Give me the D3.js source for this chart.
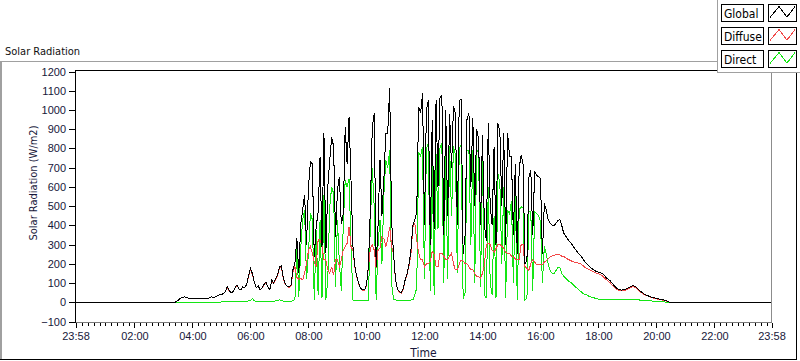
<!DOCTYPE html>
<html>
<head>
<meta charset="utf-8">
<script src="https://cdn.jsdelivr.net/npm/d3@7"></script>
<style>
  body { margin: 0; background: #fff; }
  svg { display: block; font-family: "DejaVu Sans Condensed", "Liberation Sans", sans-serif; }
</style>
</head>
<body>
<div id="chart"></div>
<script>
// Samples every 4 minutes from 03:00 to 20:56, one row per hour
const startTime = "03:00";
const stepMinutes = 4;
const nightValue = 0;

const globalValues = [
  0, 0, 0, 0, 0, 0, 0, 5, 15, 22, 25, 28, 25, 20, 22,                         // 03
  22, 20, 18, 20, 22, 20, 18, 22, 20, 25, 28, 25, 30, 35, 38,                 // 04
  40, 45, 55, 80, 60, 50, 55, 75, 90, 70, 65, 80, 78, 90, 140,                // 05
  175, 150, 105, 75, 85, 65, 75, 92, 105, 80, 65, 115, 100, 120, 140,         // 06
  185, 190, 125, 95, 85, 80, 90, 170, 205, 333, 150, 410, 479, 560, 300,      // 07
  600, 730, 720, 237, 393, 470, 756, 290, 878, 255, 600, 739, 860, 810, 341,  // 08
  583, 652, 405, 460, 912, 720, 964, 635, 290, 185, 133, 98, 73, 64, 64,      // 09
  90, 185, 480, 912, 982, 185, 405, 740, 450, 640, 878, 880, 1112, 420, 255,  // 10
  120, 70, 55, 50, 70, 116, 150, 200, 270, 400, 430, 470, 1016, 983, 1086,    // 11
  400, 1000, 1050, 300, 950, 380, 1050, 600, 1060, 1077, 350, 1000, 450, 980, 700, // 12
  1020, 980, 400, 1050, 1055, 250, 350, 950, 985, 600, 960, 500, 900, 850, 400,    // 13
  870, 400, 320, 930, 500, 400, 808, 300, 930, 890, 500, 880, 300, 880, 756,  // 14
  756, 350, 720, 250, 700, 764, 720, 200, 220, 650, 687, 350, 680, 660, 652,  // 15
  645, 250, 514, 480, 430, 410, 400, 400, 410, 425, 430, 400, 360, 345, 330,  // 16
  315, 305, 290, 275, 263, 250, 240, 225, 210, 200, 190, 180, 172, 165, 159,  // 17
  157, 154, 150, 140, 128, 120, 113, 100, 88, 76, 70, 66, 63, 65, 68,         // 18
  72, 78, 84, 86, 82, 72, 63, 55, 48, 40, 37, 32, 28, 25, 23,                 // 19
  21, 18, 16, 14, 11, 8, 4, 0, 0, 0, 0, 0, 0, 0, 0                            // 20
];

const diffuseValues = [
  0, 0, 0, 0, 0, 0, 0, 5, 15, 22, 25, 28, 25, 20, 22,
  22, 20, 18, 20, 22, 20, 18, 22, 20, 25, 28, 25, 30, 35, 38,
  40, 45, 55, 78, 60, 50, 55, 73, 88, 70, 65, 78, 76, 88, 135,
  170, 145, 103, 75, 85, 65, 75, 90, 103, 80, 65, 112, 98, 117, 136,
  180, 182, 120, 92, 83, 78, 87, 160, 185, 130, 120, 125, 116, 150, 200,
  270, 290, 255, 210, 185, 324, 324, 290, 220, 220, 168, 150, 185, 140, 220,
  220, 185, 220, 272, 290, 307, 393, 290, 270, 182, 130, 96, 71, 62, 62,
  88, 180, 280, 300, 272, 180, 272, 280, 341, 330, 290, 330, 393, 290, 250,
  118, 68, 53, 48, 68, 112, 145, 190, 250, 393, 410, 324, 255, 220, 220,
  185, 200, 200, 210, 265, 250, 185, 185, 255, 255, 240, 220, 220, 240, 255,
  200, 168, 168, 200, 220, 215, 200, 200, 185, 168, 168, 150, 133, 133, 125,
  150, 194, 300, 307, 300, 270, 260, 280, 300, 300, 290, 280, 260, 255, 255,
  240, 235, 225, 220, 220, 300, 300, 185, 175, 165, 200, 220, 210, 195, 195,
  195, 195, 210, 215, 225, 235, 240, 245, 246, 246, 246, 240, 238, 232, 225,
  220, 215, 210, 208, 205, 203, 198, 190, 182, 176, 170, 165, 160, 155, 150,
  148, 144, 138, 128, 118, 110, 102, 90, 80, 70, 64, 62, 60, 60, 64,
  68, 73, 79, 81, 77, 67, 58, 50, 45, 38, 35, 30, 26, 23, 21,
  19, 15, 14, 12, 9, 6, 3, 0, 0, 0, 0, 0, 0, 0, 0
];

const directValues = [
  0, 0, 0, 0, 0, 0, 0, 0, 0, 0, 0, 0, 0, 0, 0,
  0, 0, 0, 0, 0, 0, 0, 0, 0, 0, 0, 0, 0, 0, 0,
  2, 2, 3, 3, 3, 3, 3, 3, 4, 4, 4, 4, 4, 5, 8,
  10, 20, 8, 5, 5, 4, 4, 5, 5, 5, 4, 6, 6, 7, 8,
  12, 10, 5, 4, 4, 4, 5, 8, 15, 300, 30, 280, 428, 480, 120,
  255, 462, 430, 12, 375, 40, 430, 20, 560, 12, 120, 497, 600, 565, 81,
  428, 200, 60, 400, 635, 600, 640, 300, 12, 10, 10, 10, 10, 10, 10,
  10, 10, 405, 696, 500, 12, 300, 430, 200, 560, 740, 700, 790, 100, 12,
  12, 10, 10, 10, 10, 10, 10, 10, 12, 12, 40, 74, 780, 760, 808,
  120, 800, 827, 60, 760, 40, 770, 380, 800, 827, 100, 780, 120, 810, 450,
  810, 770, 150, 800, 820, 20, 50, 790, 790, 300, 790, 100, 790, 780, 80,
  756, 40, 20, 600, 100, 40, 450, 20, 670, 620, 200, 600, 20, 480, 460,
  524, 100, 560, 12, 480, 497, 490, 12, 20, 470, 470, 60, 470, 460, 450,
  420, 100, 290, 250, 200, 165, 150, 150, 165, 180, 183, 150, 135, 125, 115,
  107, 100, 90, 81, 72, 64, 55, 45, 40, 38, 32, 28, 26, 22, 18,
  16, 15, 14, 13, 13, 12, 12, 12, 12, 12, 12, 12, 12, 12, 13,
  14, 15, 17, 17, 15, 13, 12, 11, 10, 9, 8, 7, 7, 6, 6,
  5, 4, 3, 3, 2, 1, 0, 0, 0, 0, 0, 0, 0, 0, 0
];

const seriesNames = ["Global", "Diffuse", "Direct"];
const seriesColors = ["#000000", "#f24848", "#14e614"];
const xTickLabels = ["23:58", "02:00", "04:00", "06:00", "08:00", "10:00", "12:00",
                     "14:00", "16:00", "18:00", "20:00", "22:00", "23:58"];
const yTicks = [-100, 0, 100, 200, 300, 400, 500, 600, 700, 800, 900, 1000, 1100, 1200];
const minorTickMinutes = 12;

// time helpers
const toDate = (hhmm, dayOffset = 0) => {
  const [h, m] = hhmm.split(":").map(Number);
  return new Date(2020, 0, 2 + dayOffset, h, m);
};
const xStart = toDate(xTickLabels[0], -1);
const xEnd = toDate(xTickLabels[xTickLabels.length - 1]);
const t0 = toDate(startTime);
const sampleTimes = globalValues.map((_, i) => d3.timeMinute.offset(t0, i * stepMinutes));

const toSeries = values => [{ t: xStart, v: nightValue }]
  .concat(values.map((v, i) => ({ t: sampleTimes[i], v })))
  .concat([{ t: xEnd, v: nightValue }]);

const series = [globalValues, diffuseValues, directValues].map(toSeries);

// layout
const W = 800, H = 361;
const plot = { left: 75.5, right: 771.5, top: 70.5, bottom: 322.5 };
const textColor = "#17173a";

const svg = d3.select("#chart").append("svg")
  .attr("width", W)
  .attr("height", H);

// outer panel
const frame = svg.append("g").attr("shape-rendering", "crispEdges");
frame.append("line").attr("x1", 0).attr("x2", 717).attr("y1", 61.5).attr("y2", 61.5).attr("stroke", "#a0a0a0");
frame.append("line").attr("x1", 1).attr("x2", 1).attr("y1", 61).attr("y2", 360).attr("stroke", "#a0a0a0").attr("stroke-width", 2);
frame.append("line").attr("x1", 0).attr("x2", 797).attr("y1", 359.5).attr("y2", 359.5).attr("stroke", "#000");
frame.append("line").attr("x1", 796.5).attr("x2", 796.5).attr("y1", 72).attr("y2", 360).attr("stroke", "#000");

svg.append("text")
  .attr("x", 5).attr("y", 55)
  .attr("font-size", 11).attr("fill", "#111")
  .text("Solar Radiation");

// scales
const x = d3.scaleTime().domain([xStart, xEnd]).range([plot.left, plot.right]);
const y = d3.scaleLinear().domain([-100, 1200]).range([321.5, 71.5]);

// y axis
const yAxis = svg.append("g")
  .attr("transform", `translate(${plot.left - 0.5},0)`)
  .attr("shape-rendering", "crispEdges")
  .call(d3.axisLeft(y).tickValues(yTicks).tickSize(6).tickPadding(3).tickFormat(d3.format("d")));
yAxis.select(".domain").remove();
yAxis.selectAll(".tick line").attr("stroke", "#000");
yAxis.selectAll(".tick text")
  .attr("font-size", 11).attr("fill", textColor)
  .attr("font-family", null);

// x axis: minor then major ticks
const majorTicks = xTickLabels.map((lab, i) =>
  i === 0 ? xStart : i === xTickLabels.length - 1 ? xEnd : toDate(lab));
const minorTicks = d3.range(0, 24 * 60, minorTickMinutes)
  .map(m => d3.timeMinute.offset(toDate("00:00"), m));

const xMinor = svg.append("g")
  .attr("transform", `translate(0,${plot.bottom})`)
  .attr("shape-rendering", "crispEdges")
  .call(d3.axisBottom(x).tickValues(minorTicks).tickSize(3).tickFormat(""));
xMinor.select(".domain").remove();

const xAxis = svg.append("g")
  .attr("transform", `translate(0,${plot.bottom})`)
  .attr("shape-rendering", "crispEdges")
  .call(d3.axisBottom(x).tickValues(majorTicks).tickSize(5).tickPadding(5)
    .tickFormat((d, i) => xTickLabels[i]));
xAxis.select(".domain").remove();
xAxis.selectAll(".tick line").attr("stroke", "#000");
xAxis.selectAll(".tick text")
  .attr("font-size", 11).attr("fill", textColor)
  .attr("font-family", null);

// plot clip
svg.append("clipPath").attr("id", "clip")
  .append("rect")
  .attr("x", plot.left).attr("y", plot.top)
  .attr("width", plot.right - plot.left).attr("height", plot.bottom - plot.top);

const line = d3.line()
  .x(d => x(d.t))
  .y(d => y(d.v));

const lines = svg.append("g").attr("clip-path", "url(#clip)");
// draw Direct first, Global on top
[2, 1, 0].forEach(k => {
  lines.append("path")
    .datum(series[k])
    .attr("fill", "none")
    .attr("stroke", seriesColors[k])
    .attr("stroke-width", 1)
    .attr("shape-rendering", "crispEdges")
    .attr("d", line);
});

// plot frame
const pf = svg.append("g").attr("shape-rendering", "crispEdges");
pf.append("line").attr("x1", plot.left).attr("x2", plot.right).attr("y1", plot.top - 0.5).attr("y2", plot.top - 0.5).attr("stroke", "#000");
pf.append("line").attr("x1", plot.left).attr("x2", plot.left).attr("y1", plot.top - 1).attr("y2", plot.bottom).attr("stroke", "#000");
pf.append("line").attr("x1", plot.right).attr("x2", plot.right).attr("y1", plot.top).attr("y2", plot.bottom).attr("stroke", "#8c8c8c");
pf.append("line").attr("x1", plot.left).attr("x2", plot.right + 0.5).attr("y1", plot.bottom).attr("y2", plot.bottom).attr("stroke", "#7a7a7a");

// axis titles
svg.append("text")
  .attr("transform", "translate(36.5,183) rotate(-90)")
  .attr("text-anchor", "middle")
  .attr("font-size", 11).attr("fill", textColor)
  .text("Solar Radiation (W/m2)");

svg.append("text")
  .attr("x", 423.5).attr("y", 357)
  .attr("text-anchor", "middle")
  .attr("font-size", 12).attr("fill", textColor)
  .text("Time");

// legend
const legend = svg.append("g").attr("shape-rendering", "crispEdges");
legend.append("rect").attr("x", 717).attr("y", 0).attr("width", 83).attr("height", 72).attr("fill", "#fff");
legend.append("line").attr("x1", 717.5).attr("x2", 717.5).attr("y1", 0).attr("y2", 73).attr("stroke", "#a0a0a0");
legend.append("line").attr("x1", 717).attr("x2", 800).attr("y1", 72.5).attr("y2", 72.5).attr("stroke", "#a0a0a0");

seriesNames.forEach((name, i) => {
  const top = 4.5 + i * 23;
  const row = legend.append("g");
  row.append("rect")
    .attr("x", 721.5).attr("y", top).attr("width", 42).attr("height", 17)
    .attr("fill", "#fff").attr("stroke", "#000");
  row.append("text")
    .attr("x", 724).attr("y", top + 13)
    .attr("font-size", 12).attr("fill", "#000")
    .text(name);
  row.append("rect")
    .attr("x", 768.5).attr("y", top).attr("width", 28).attr("height", 17)
    .attr("fill", "#fff").attr("stroke", "#000");
  const zig = [[770, top + 13], [779, top + 2], [787, top + 12.5], [795, top + 2]];
  row.append("path")
    .attr("d", d3.line()(zig))
    .attr("fill", "none")
    .attr("stroke", seriesColors[i]);
});
</script>
</body>
</html>
